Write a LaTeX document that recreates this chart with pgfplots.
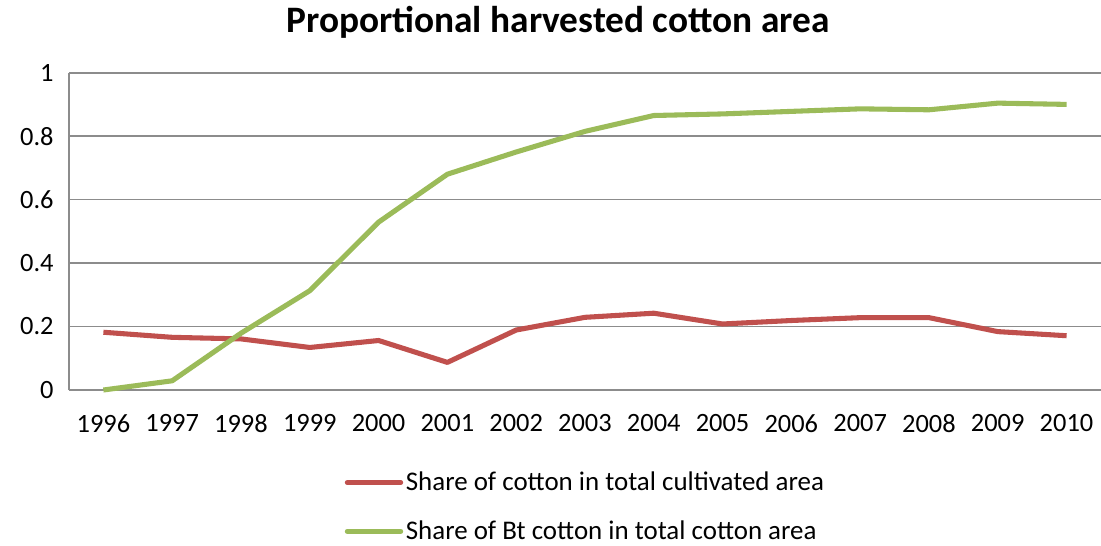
\documentclass[border=0pt]{standalone}
\usepackage{fontspec}
\setmainfont{Carlito}
\usepackage{pgfplots}
\pgfplotsset{compat=1.18}

\definecolor{cottonred}{HTML}{C0504D}
\definecolor{btgreen}{HTML}{9BBB59}
\definecolor{gridgray}{HTML}{8C8C8C}

\begin{document}
\begin{tikzpicture}
% page frame
\path[use as bounding box] (-51.75pt,-117pt) rectangle (774pt,292.5pt);
\begin{axis}[
  at={(0pt,0pt)}, anchor=south west,
  scale only axis,
  width=774pt, height=238pt,
  xmin=1995.5, xmax=2010.5,
  ymin=0, ymax=1,
  xtick={1996,...,2010},
  ytick={0,0.2,0.4,0.6,0.8,1},
  yticklabels={0,0.2,0.4,0.6,0.8,1},
  xticklabel style={/pgf/number format/1000 sep={}},
  /pgf/number format/assume math mode=true,
  tick label style={font=\fontsize{19.8}{22}\selectfont},
  xticklabel style={yshift=-15pt},
  yticklabel style={xshift=-8pt},
  major tick length=0pt,
  axis lines*=left,
  axis line style={gridgray, line width=1.3pt, -},
  ymajorgrids,
  grid style={gridgray, line width=1.3pt},
  clip=false,
  legend style={
    draw=none, fill=none,
    at={(0.267,-0.25)}, anchor=north west,
    font=\fontsize{20.2}{22}\selectfont,
    row sep=17pt,
    legend cell align=left,
    inner sep=0pt,
  },
  legend image code/.code={\draw[#1, line cap=round] (0pt,0pt) -- (40pt,0pt);},
]
\addplot[cottonred, line width=3.8pt, line join=round] coordinates {
  (1996,0.182) (1997,0.166) (1998,0.161) (1999,0.134) (2000,0.156)
  (2001,0.087) (2002,0.189) (2003,0.229) (2004,0.242) (2005,0.208)
  (2006,0.219) (2007,0.228) (2008,0.228) (2009,0.184) (2010,0.171)
};
\addlegendentry{Share of cotton in total cultivated area}
\addplot[btgreen, line width=3.8pt, line join=round] coordinates {
  (1996,0.000) (1997,0.029) (1998,0.179) (1999,0.313) (2000,0.529)
  (2001,0.680) (2002,0.750) (2003,0.815) (2004,0.865) (2005,0.870)
  (2006,0.878) (2007,0.886) (2008,0.883) (2009,0.904) (2010,0.900)
};
\addlegendentry{Share of Bt cotton in total cotton area}
\end{axis}
\node[font=\bfseries\fontsize{28}{32}\selectfont] at (366.75pt,276pt) {Proportional harvested cotton area};
\end{tikzpicture}
\end{document}
